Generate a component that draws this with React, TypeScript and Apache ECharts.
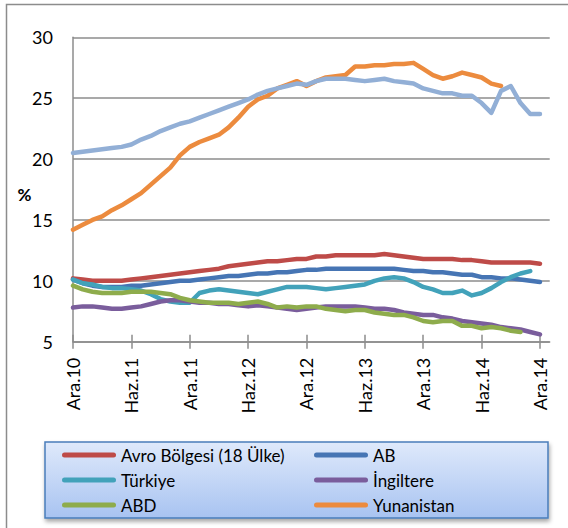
import React, { useEffect, useRef } from 'react';
import * as echarts from 'echarts';

const categories = [
  'Ara.10',
  'Oca.11', 'Şub.11', 'Mar.11', 'Nis.11', 'May.11', 'Haz.11', 'Tem.11', 'Ağu.11', 'Eyl.11', 'Eki.11', 'Kas.11', 'Ara.11',
  'Oca.12', 'Şub.12', 'Mar.12', 'Nis.12', 'May.12', 'Haz.12', 'Tem.12', 'Ağu.12', 'Eyl.12', 'Eki.12', 'Kas.12', 'Ara.12',
  'Oca.13', 'Şub.13', 'Mar.13', 'Nis.13', 'May.13', 'Haz.13', 'Tem.13', 'Ağu.13', 'Eyl.13', 'Eki.13', 'Kas.13', 'Ara.13',
  'Oca.14', 'Şub.14', 'Mar.14', 'Nis.14', 'May.14', 'Haz.14', 'Tem.14', 'Ağu.14', 'Eyl.14', 'Eki.14', 'Kas.14', 'Ara.14',
  'Oca.15',
];

const tickLabels = ['Ara.10', 'Haz.11', 'Ara.11', 'Haz.12', 'Ara.12', 'Haz.13', 'Ara.13', 'Haz.14', 'Ara.14'];

const avroBolgesi = [
  10.2, 10.1, 10.0, 10.0, 10.0, 10.0, 10.1, 10.2, 10.3, 10.4,
  10.5, 10.6, 10.7, 10.8, 10.9, 11.0, 11.2, 11.3, 11.4, 11.5,
  11.6, 11.6, 11.7, 11.8, 11.8, 12.0, 12.0, 12.1, 12.1, 12.1,
  12.1, 12.1, 12.2, 12.1, 12.0, 11.9, 11.8, 11.8, 11.8, 11.8,
  11.7, 11.7, 11.6, 11.5, 11.5, 11.5, 11.5, 11.5, 11.4,
];

const ab = [
  10.1, 9.8, 9.6, 9.5, 9.5, 9.5, 9.6, 9.6, 9.7, 9.8,
  9.9, 10.0, 10.0, 10.1, 10.2, 10.3, 10.4, 10.4, 10.5, 10.6,
  10.6, 10.7, 10.7, 10.8, 10.9, 10.9, 11.0, 11.0, 11.0, 11.0,
  11.0, 11.0, 11.0, 11.0, 10.9, 10.8, 10.8, 10.7, 10.7, 10.6,
  10.5, 10.5, 10.3, 10.3, 10.2, 10.2, 10.1, 10.0, 9.9,
];

const turkiye = [
  10.1, 9.8, 9.7, 9.5, 9.4, 9.4, 9.3, 9.2, 8.9, 8.5,
  8.3, 8.2, 8.2, 9.0, 9.2, 9.3, 9.2, 9.1, 9.0, 8.9,
  9.1, 9.3, 9.5, 9.5, 9.5, 9.4, 9.3, 9.4, 9.5, 9.6,
  9.7, 10.0, 10.2, 10.3, 10.2, 9.9, 9.5, 9.3, 9.0, 9.0,
  9.2, 8.8, 9.0, 9.4, 9.9, 10.3, 10.6, 10.8,
];

const ingiltere = [
  7.8, 7.9, 7.9, 7.8, 7.7, 7.7, 7.8, 7.9, 8.1, 8.3,
  8.4, 8.4, 8.3, 8.2, 8.2, 8.1, 8.1, 8.0, 7.9, 8.0,
  7.9, 7.8, 7.7, 7.6, 7.7, 7.8, 7.9, 7.9, 7.9, 7.9,
  7.8, 7.7, 7.7, 7.6, 7.4, 7.3, 7.2, 7.2, 7.0, 6.9,
  6.7, 6.6, 6.5, 6.4, 6.2, 6.1, 6.0, 5.8, 5.6,
];

const abd = [
  9.6, 9.3, 9.1, 9.0, 9.0, 9.0, 9.1, 9.1, 9.1, 9.0,
  8.9, 8.6, 8.4, 8.3, 8.2, 8.2, 8.2, 8.1, 8.2, 8.3,
  8.1, 7.8, 7.9, 7.8, 7.9, 7.9, 7.7, 7.6, 7.5, 7.6,
  7.6, 7.4, 7.3, 7.2, 7.2, 7.0, 6.7, 6.6, 6.7, 6.7,
  6.3, 6.3, 6.1, 6.2, 6.1, 5.9, 5.8,
];

const yunanistan = [
  14.2, 14.6, 15.0, 15.3, 15.8, 16.2, 16.7, 17.2, 17.9, 18.6,
  19.3, 20.3, 21.0, 21.4, 21.7, 22.0, 22.6, 23.4, 24.3, 24.9,
  25.2, 25.8, 26.1, 26.4, 26.0, 26.4, 26.7, 26.8, 26.9, 27.6,
  27.6, 27.7, 27.7, 27.8, 27.8, 27.9, 27.4, 26.9, 26.6, 26.8,
  27.1, 26.9, 26.7, 26.2, 26.0,
];

const ispanya = [
  20.5, 20.6, 20.7, 20.8, 20.9, 21.0, 21.2, 21.6, 21.9, 22.3,
  22.6, 22.9, 23.1, 23.4, 23.7, 24.0, 24.3, 24.6, 24.9, 25.3,
  25.6, 25.8, 26.0, 26.2, 26.1, 26.4, 26.6, 26.6, 26.6, 26.5,
  26.4, 26.5, 26.6, 26.4, 26.3, 26.2, 25.8, 25.6, 25.4, 25.4,
  25.2, 25.2, 24.6, 23.8, 25.6, 26.0, 24.6, 23.7, 23.7,
];

const seriesDefs = [
  { name: 'Avro Bölgesi (18 Ülke)', data: avroBolgesi, color: '#BE4B48' },
  { name: 'AB', data: ab, color: '#4675B4' },
  { name: 'Türkiye', data: turkiye, color: '#42A2BA' },
  { name: 'İngiltere', data: ingiltere, color: '#7A5D9C' },
  { name: 'ABD', data: abd, color: '#8EAC4C' },
  { name: 'Yunanistan', data: yunanistan, color: '#EC8B3E' },
  { name: 'İspanya', data: ispanya, color: '#92AFD6' },
];

const legendCol1 = ['Avro Bölgesi (18 Ülke)', 'Türkiye', 'ABD'];
const legendCol2 = ['AB', 'İngiltere', 'Yunanistan'];

const FONT = 'Lato, "Open Sans", sans-serif';
const GRID_COLOR = '#8c8c8c';
const capsule = 'path://M2.5,0 L51.5,0 A2.5,2.5 0 0 1 51.5,5 L2.5,5 A2.5,2.5 0 0 1 2.5,0 Z';

const showTick = (_i: number, v: string) => tickLabels.includes(v);

export default function App() {
  const ref = useRef<HTMLDivElement>(null);

  useEffect(() => {
    if (!ref.current) return;
    const chart = echarts.init(ref.current, undefined, { renderer: 'svg' });

    const legendBase = {
      orient: 'vertical' as const,
      top: 445,
      padding: 0,
      itemGap: 5,
      itemWidth: 54,
      itemHeight: 5,
      icon: capsule,
      selectedMode: false,
      textStyle: { fontFamily: FONT, fontSize: 17, lineHeight: 20, color: '#000' },
    };

    chart.setOption({
      animation: false,
      backgroundColor: '#fff',
      grid: { left: 73, right: 18.3, top: 37.3, bottom: 186.3, containLabel: false },
      xAxis: [
        {
          type: 'category',
          data: categories,
          boundaryGap: false,
          position: 'bottom',
          axisLine: { show: true, lineStyle: { color: GRID_COLOR, width: 1.5 } },
          axisTick: { show: true, length: 7, interval: showTick, lineStyle: { color: GRID_COLOR, width: 1.5 } },
          axisLabel: {
            show: true,
            interval: showTick,
            rotate: 90,
            margin: 16,
            fontFamily: FONT,
            fontSize: 18,
            color: '#000',
            padding: [12, 0, 0, 0],
          },
          splitLine: { show: false },
        },
        {
          type: 'category',
          data: categories,
          boundaryGap: false,
          position: 'top',
          offset: -304.4,
          axisLine: { show: false },
          axisTick: { show: true, length: 7, interval: showTick, lineStyle: { color: GRID_COLOR, width: 1.5 } },
          axisLabel: { show: false },
          splitLine: { show: false },
        },
      ],
      yAxis: {
        type: 'value',
        min: 5,
        max: 30,
        interval: 5,
        axisLine: { show: true, lineStyle: { color: GRID_COLOR, width: 1.5 } },
        axisTick: { show: false },
        axisLabel: { margin: 20, fontFamily: FONT, fontSize: 18, color: '#000' },
        splitLine: { show: true, lineStyle: { color: GRID_COLOR, width: 1.5 } },
      },
      legend: [
        { ...legendBase, left: 62, data: legendCol1 },
        { ...legendBase, left: 314, data: legendCol2 },
      ],
      graphic: [
        {
          type: 'rect',
          shape: { x: 6.5, y: 4.5, width: 700, height: 700 },
          style: { fill: 'none', stroke: '#8c8c8c', lineWidth: 1.5 },
          silent: true,
          z: 0,
        },
        {
          type: 'rect',
          shape: { x: 45, y: 442, width: 503, height: 76 },
          style: {
            fill: new echarts.graphic.LinearGradient(0, 0, 0, 1, [
              { offset: 0, color: '#dfe9fb' },
              { offset: 1, color: '#a8c3f1' },
            ]),
            stroke: '#4a7ebb',
            lineWidth: 1.5,
            shadowBlur: 4,
            shadowOffsetX: 1,
            shadowOffsetY: 3,
            shadowColor: 'rgba(0,0,0,0.35)',
          },
          silent: true,
          z: 0,
        },
        {
          type: 'text',
          x: 24.5,
          y: 194,
          style: {
            text: '%',
            fontFamily: FONT,
            fontSize: 17,
            fontWeight: 'bold',
            fill: '#000',
            textAlign: 'center',
            textVerticalAlign: 'middle',
          },
          silent: true,
        },
      ],
      series: seriesDefs.map((s) => ({
        name: s.name,
        type: 'line',
        xAxisIndex: 0,
        data: s.data,
        showSymbol: false,
        symbol: 'none',
        color: s.color,
        lineStyle: { color: s.color, width: 4.5, cap: 'round', join: 'round' },
        emphasis: { disabled: true },
      })),
    });

    return () => chart.dispose();
  }, []);

  return (
    <div
      ref={ref}
      style={{ position: 'fixed', left: 0, top: 0, width: 568, height: 528, background: '#fff' }}
    />
  );
}
